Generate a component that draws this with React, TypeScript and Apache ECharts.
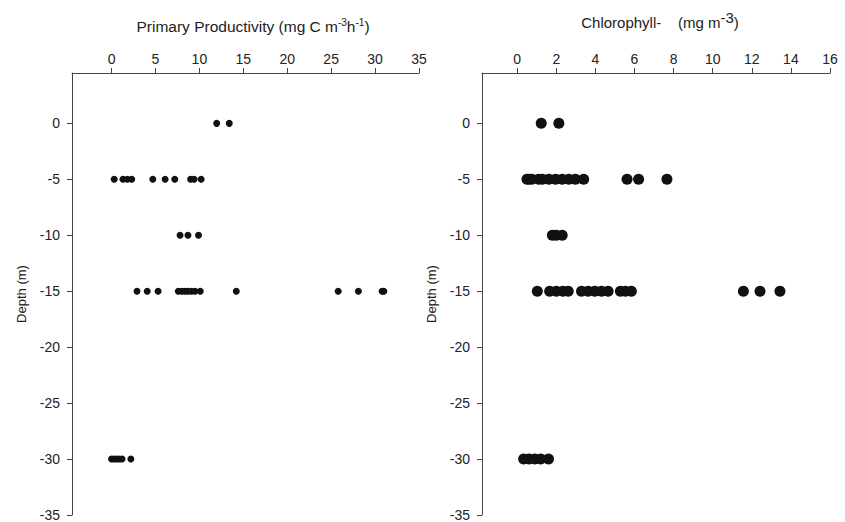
import React, { useEffect, useRef } from "react";
import * as echarts from "echarts";

// Primary productivity (mg C m-3 h-1) by depth
const ppAt0 = [11.97, 13.4];
const ppAt5 = [0.3, 1.3, 1.8, 2.3, 4.7, 6.1, 7.2, 9.0, 9.4, 10.2];
const ppAt10 = [7.8, 8.7, 9.9];
const ppAt15 = [2.9, 4.06, 5.3, 7.6, 8.0, 8.36, 8.7, 9.1, 9.5, 10.1, 14.2, 25.8, 28.1, 30.8, 31.0];
const ppAt30 = [0.0, 0.3, 0.6, 0.9, 1.2, 2.2];

// Chlorophyll-a (mg m-3) by depth
const chlAt0 = [1.23, 2.13];
const chlAt5 = [0.5, 0.6, 0.75, 1.1, 1.29, 1.62, 1.96, 2.3, 2.64, 2.98, 3.4, 5.62, 6.21, 7.66];
const chlAt10 = [1.8, 2.0, 2.3];
const chlAt15 = [1.03, 1.66, 2.0, 2.34, 2.61, 3.29, 3.63, 3.97, 4.31, 4.65, 5.28, 5.54, 5.84, 11.57, 12.42, 13.44];
const chlAt30 = [0.33, 0.6, 0.9, 1.2, 1.6];

const depths = [0, -5, -10, -15, -30];
const depthTicks = [-35, -30, -25, -20, -15, -10, -5, 0];
const ppTicks = [0, 5, 10, 15, 20, 25, 30, 35];
const chlTicks = [0, 2, 4, 6, 8, 10, 12, 14, 16];

const ppGroups = [ppAt0, ppAt5, ppAt10, ppAt15, ppAt30];
const chlGroups = [chlAt0, chlAt5, chlAt10, chlAt15, chlAt30];

function toPoints(groups: number[][]) {
  const out: number[][] = [];
  groups.forEach((g, i) => g.forEach((v) => out.push([v, depths[i]])));
  return out;
}

const axisColor = "#444";
const textColor = "#222";
const font = "Liberation Sans, Arial, sans-serif";

export default function App() {
  const ref = useRef<HTMLDivElement>(null);
  useEffect(() => {
    if (!ref.current) return;
    const chart = echarts.init(ref.current, undefined, { renderer: "svg" });
    const xAxisCommon = (min: number, max: number, ticks: number[]) => ({
      type: "value",
      position: "top",
      min,
      max,
      splitLine: { show: false },
      axisLine: { show: true, onZero: false, lineStyle: { color: axisColor, width: 1 } },
      axisTick: { show: true, inside: false, length: 5, customValues: ticks, lineStyle: { color: axisColor } },
      axisLabel: { customValues: ticks, color: textColor, fontSize: 14, fontFamily: font, margin: 7 },
    });
    const yAxisCommon = (gridIndex: number) => ({
      type: "value",
      gridIndex,
      min: -35,
      max: 4.5,
      name: "Depth (m)",
      nameLocation: "middle",
      nameGap: 44,
      nameRotate: 90,
      nameTextStyle: { color: textColor, fontSize: 13, fontFamily: font },
      splitLine: { show: false },
      axisLine: { show: true, onZero: false, lineStyle: { color: axisColor, width: 1 } },
      axisTick: { show: true, length: 5, customValues: depthTicks, lineStyle: { color: axisColor } },
      axisLabel: { customValues: depthTicks, color: textColor, fontSize: 14, fontFamily: font, margin: 12 },
    });
    chart.setOption({
      animation: false,
      backgroundColor: "#fff",
      title: [
        {
          text: "Primary Productivity (mg C m{sup|-3}h{sup|-1})",
          left: 248,
          top: 12,
          textAlign: "center",
          textStyle: {
            fontSize: 15.5,
            fontWeight: "normal",
            color: textColor,
            fontFamily: font,
            rich: {
              sup: { fontSize: 10, fontFamily: font, color: textColor, padding: [0, 0, 9, 0] },
            },
          },
        },
        {
          text: "Chlorophyll-    (mg m{sup|-3})",
          left: 655,
          top: 5,
          textAlign: "center",
          textStyle: {
            fontSize: 15,
            fontWeight: "normal",
            color: textColor,
            fontFamily: font,
            rich: {
              sup: { fontSize: 15, fontFamily: font, color: textColor, padding: [0, 0, 10, 0] },
            },
          },
        },
      ],
      grid: [
        { left: 72, right: 426, top: 73, bottom: 6 },
        { left: 482, right: 15, top: 73, bottom: 6 },
      ],
      xAxis: [
        { ...xAxisCommon(-4.5, 35, ppTicks), gridIndex: 0 },
        { ...xAxisCommon(-1.8, 16, chlTicks), gridIndex: 1 },
      ],
      yAxis: [yAxisCommon(0), yAxisCommon(1)],
      series: [
        {
          type: "scatter",
          xAxisIndex: 0,
          yAxisIndex: 0,
          symbolSize: 7,
          itemStyle: { color: "#111", opacity: 1 },
          data: toPoints(ppGroups),
        },
        {
          type: "scatter",
          xAxisIndex: 1,
          yAxisIndex: 1,
          symbolSize: 11,
          itemStyle: { color: "#111", opacity: 1 },
          data: toPoints(chlGroups),
        },
      ],
    });
    return () => chart.dispose();
  }, []);
  return <div ref={ref} style={{ width: 845, height: 522, position: "absolute", left: 0, top: 0 }} />;
}
